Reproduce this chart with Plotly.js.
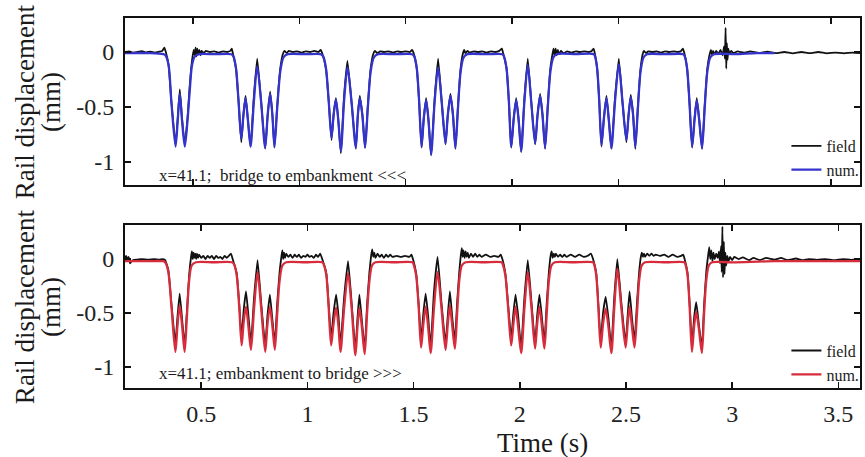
<!DOCTYPE html>
<html>
<head>
<meta charset="utf-8">
<script src="https://cdn.plot.ly/plotly-3.0.1.min.js"></script>
<style>html,body{margin:0;padding:0;background:#fff;}#chart{width:865px;height:457px;}</style>
</head>
<body>
<div id="chart"></div>
<script>
// ---------- DATA ----------
var xTickVals = [0.5, 1, 1.5, 2, 2.5, 3, 3.5];
var xTickText = ['0.5', '1', '1.5', '2', '2.5', '3', '3.5'];
var yTickVals = [0, -0.5, -1];
var yTickText = ['0', '-0.5', '-1'];
var seriesNames = ['field', 'num.'];
var panelNotes = ['x=41.1;&nbsp; bridge to embankment &lt;&lt;&lt;', 'x=41.1; embankment to bridge &gt;&gt;&gt;'];

// Top panel (bridge to embankment) - numerical (blue)
var numTopT = [0.18,0.30,0.36,0.37,0.385,0.398,0.4176,0.428,0.4377,0.448,0.4611,0.474,0.4845,0.495,0.508,0.53,0.60,0.68,
 0.69,0.702,0.714,0.7267,0.737,0.7468,0.758,0.7703,0.786,0.8016,0.82,0.8391,0.851,0.8625,0.873,0.8827,0.896,0.91,0.925,0.945,1.03,1.10,
 1.112,1.125,1.138,1.151,1.161,1.1717,1.183,1.1951,1.21,1.226,1.245,1.2653,1.275,1.2841,1.296,1.3089,1.322,1.335,1.35,1.37,1.45,1.53,
 1.54,1.552,1.563,1.5745,1.585,1.596,1.607,1.6194,1.636,1.6522,1.669,1.6869,1.698,1.7103,1.722,1.7337,1.746,1.758,1.772,1.79,1.88,1.955,
 1.962,1.974,1.985,1.9961,2.008,2.0195,2.031,2.0429,2.058,2.0738,2.09,2.1084,2.12,2.1319,2.143,2.1553,2.168,2.18,2.194,2.21,2.30,2.385,
 2.39,2.400,2.41,2.4204,2.432,2.4438,2.455,2.4672,2.484,2.5019,2.519,2.5375,2.548,2.5581,2.569,2.5796,2.592,2.604,2.618,2.635,2.72,2.805,
 2.812,2.823,2.834,2.8466,2.858,2.8686,2.88,2.8934,2.906,2.918,2.932,2.95,3.05,3.15,3.234];
var numTopV = [-0.01,-0.01,-0.02,-0.03,-0.12,-0.45,-0.86,-0.62,-0.38,-0.62,-0.86,-0.62,-0.35,-0.12,-0.04,-0.02,-0.02,-0.02,
 -0.04,-0.15,-0.45,-0.79,-0.57,-0.42,-0.62,-0.86,-0.45,-0.13,-0.45,-0.87,-0.57,-0.38,-0.57,-0.86,-0.5,-0.18,-0.05,-0.02,-0.02,-0.02,
 -0.04,-0.15,-0.45,-0.78,-0.57,-0.43,-0.62,-0.9,-0.45,-0.14,-0.45,-0.87,-0.57,-0.42,-0.57,-0.87,-0.5,-0.18,-0.05,-0.02,-0.02,-0.02,
 -0.04,-0.15,-0.45,-0.86,-0.6,-0.44,-0.62,-0.93,-0.45,-0.14,-0.45,-0.83,-0.57,-0.4,-0.57,-0.87,-0.5,-0.18,-0.05,-0.02,-0.02,-0.02,
 -0.04,-0.15,-0.45,-0.86,-0.6,-0.44,-0.62,-0.9,-0.45,-0.12,-0.45,-0.83,-0.57,-0.4,-0.57,-0.87,-0.5,-0.18,-0.05,-0.02,-0.02,-0.02,
 -0.04,-0.15,-0.45,-0.845,-0.6,-0.42,-0.62,-0.875,-0.45,-0.11,-0.45,-0.8,-0.57,-0.41,-0.57,-0.86,-0.5,-0.18,-0.05,-0.02,-0.02,-0.02,
 -0.04,-0.15,-0.45,-0.86,-0.62,-0.44,-0.62,-0.875,-0.5,-0.18,-0.05,-0.02,-0.02,-0.01,-0.01];

// Top panel - field (black)
var fieldTopT = [0.18,0.2,0.22,0.24,0.26,0.28,0.30,0.32,0.34,0.355,0.365,0.372,
 0.385,0.398,0.4176,0.428,0.4377,0.448,0.4611,0.474,0.4845,0.495,0.503,0.508,0.512,0.516,0.52,0.525,0.53,0.535,0.54,0.55,0.56,0.58,0.60,0.62,0.64,0.66,0.675,0.682,0.688,
 0.702,0.714,0.7267,0.737,0.7468,0.758,0.7703,0.786,0.8016,0.82,0.8391,0.851,0.8625,0.873,0.8827,0.896,0.91,0.922,0.93,0.94,0.95,0.97,0.99,1.01,1.03,1.05,1.07,1.09,1.1,1.107,
 1.125,1.138,1.151,1.161,1.1717,1.183,1.1951,1.21,1.226,1.245,1.2653,1.275,1.2841,1.296,1.3089,1.322,1.335,1.347,1.355,1.365,1.38,1.40,1.42,1.44,1.46,1.48,1.50,1.52,1.53,1.537,
 1.552,1.563,1.5745,1.585,1.596,1.607,1.6194,1.636,1.6522,1.669,1.6869,1.698,1.7103,1.722,1.7337,1.746,1.758,1.768,1.775,1.78,1.79,1.80,1.82,1.84,1.86,1.88,1.90,1.92,1.94,1.952,1.958,
 1.974,1.985,1.9961,2.008,2.0195,2.031,2.0429,2.058,2.0738,2.09,2.1084,2.12,2.1319,2.143,2.1553,2.168,2.18,2.19,2.195,2.2,2.205,2.21,2.215,2.22,2.23,2.24,2.26,2.28,2.30,2.32,2.34,2.36,2.375,2.383,2.389,
 2.400,2.41,2.4204,2.432,2.4438,2.455,2.4672,2.484,2.5019,2.519,2.5375,2.548,2.5581,2.569,2.5796,2.592,2.604,2.614,2.62,2.63,2.64,2.66,2.68,2.70,2.72,2.74,2.76,2.78,2.795,2.803,2.81,
 2.823,2.834,2.8466,2.858,2.8686,2.88,2.8934,2.906,2.918,2.928,2.935,2.94,2.945,2.95,2.96,2.97,2.98,2.99,2.997,3.001,3.004,3.007,3.01,3.013,3.017,3.022,3.03,3.04,3.06,3.09,3.12,3.16,3.2,3.24,3.28,3.32,3.36,3.40,3.44,3.48,3.52,3.56,3.60,3.636];
var fieldTopV = [0.0,0.005,-0.005,0.0,0.008,-0.003,0.004,-0.005,0.003,0.01,0.04,0.0,
 -0.12,-0.45,-0.84,-0.6,-0.34,-0.6,-0.84,-0.6,-0.3,-0.08,0.02,-0.03,0.04,-0.04,0.03,-0.02,0.02,-0.03,0.01,-0.01,0.01,0.0,0.005,-0.005,0.005,0.0,0.01,0.03,-0.02,
 -0.15,-0.45,-0.82,-0.57,-0.4,-0.62,-0.86,-0.4,-0.06,-0.45,-0.88,-0.57,-0.36,-0.57,-0.87,-0.48,-0.15,-0.02,0.01,-0.01,0.01,0.0,0.005,-0.005,0.005,0.0,0.01,0.0,0.02,-0.01,
 -0.15,-0.45,-0.8,-0.57,-0.42,-0.62,-0.92,-0.4,-0.08,-0.45,-0.88,-0.57,-0.4,-0.57,-0.87,-0.48,-0.15,-0.02,0.01,-0.01,0.005,0.0,0.006,-0.004,0.005,0.0,0.006,0.0,0.02,-0.01,
 -0.15,-0.45,-0.87,-0.6,-0.42,-0.62,-0.94,-0.42,-0.06,-0.45,-0.84,-0.57,-0.38,-0.57,-0.88,-0.48,-0.15,-0.02,0.02,-0.01,0.01,-0.005,0.005,0.0,0.005,-0.005,0.005,0.0,0.01,0.03,-0.01,
 -0.15,-0.45,-0.87,-0.6,-0.42,-0.62,-0.91,-0.42,-0.06,-0.45,-0.84,-0.57,-0.38,-0.57,-0.88,-0.48,-0.15,-0.02,0.03,-0.03,0.03,-0.03,0.02,-0.02,0.01,-0.01,0.005,-0.005,0.005,0.0,0.005,0.0,0.01,0.03,-0.01,
 -0.15,-0.45,-0.86,-0.6,-0.4,-0.62,-0.88,-0.42,-0.06,-0.45,-0.82,-0.57,-0.39,-0.57,-0.88,-0.48,-0.15,-0.02,0.01,-0.01,0.005,0.0,0.005,-0.005,0.005,0.0,0.005,0.0,0.01,0.03,-0.01,
 -0.15,-0.45,-0.87,-0.6,-0.42,-0.62,-0.88,-0.48,-0.15,-0.03,0.02,-0.03,0.01,-0.02,0.01,-0.02,0.02,-0.03,0.05,-0.06,0.22,-0.15,0.08,-0.07,0.03,-0.02,0.01,-0.01,0.005,-0.005,0.005,-0.008,0.003,-0.01,0.0,-0.012,0.0,-0.01,0.0,-0.012,-0.005,-0.012,-0.005,-0.01];

// Bottom panel (embankment to bridge) - numerical (red)
var numBotT = [0.141,0.25,0.32,0.33,0.345,0.36,0.3782,0.388,0.3984,0.41,0.4218,0.432,0.443,0.455,0.475,0.56,0.645,
 0.655,0.667,0.679,0.6902,0.70,0.7108,0.722,0.7342,0.749,0.7651,0.782,0.8012,0.812,0.8232,0.835,0.8466,0.858,0.869,0.882,0.90,0.99,1.07,
 1.077,1.089,1.10,1.1117,1.123,1.1351,1.146,1.1557,1.173,1.1913,1.208,1.226,1.236,1.2447,1.256,1.2696,1.281,1.292,1.304,1.32,1.41,1.495,
 1.50,1.512,1.524,1.5351,1.546,1.5567,1.568,1.5801,1.596,1.6129,1.631,1.6503,1.661,1.6709,1.682,1.6944,1.705,1.715,1.727,1.745,1.83,1.915,
 1.92,1.932,1.945,1.9595,1.97,1.98,1.992,2.0063,2.022,2.0377,2.055,2.0719,2.082,2.0925,2.104,2.1159,2.127,2.137,2.149,2.165,2.25,2.345,
 2.35,2.36,2.37,2.381,2.392,2.4044,2.417,2.4311,2.445,2.4593,2.478,2.4981,2.508,2.5169,2.528,2.5403,2.552,2.562,2.574,2.59,2.69,2.775,
 2.78,2.79,2.80,2.8106,2.821,2.8307,2.843,2.8574,2.868,2.878,2.89,2.905,3.0,3.2,3.4,3.602];
var numBotV = [-0.02,-0.02,-0.02,-0.03,-0.12,-0.45,-0.86,-0.62,-0.43,-0.62,-0.86,-0.55,-0.2,-0.06,-0.03,-0.03,-0.03,
 -0.05,-0.15,-0.45,-0.8,-0.58,-0.44,-0.62,-0.84,-0.45,-0.12,-0.45,-0.86,-0.6,-0.44,-0.62,-0.84,-0.5,-0.2,-0.06,-0.03,-0.03,-0.03,
 -0.05,-0.15,-0.45,-0.8,-0.6,-0.45,-0.62,-0.86,-0.45,-0.13,-0.45,-0.89,-0.62,-0.45,-0.62,-0.88,-0.5,-0.2,-0.06,-0.03,-0.03,-0.03,
 -0.05,-0.15,-0.45,-0.82,-0.6,-0.44,-0.62,-0.87,-0.45,-0.12,-0.45,-0.84,-0.6,-0.43,-0.62,-0.83,-0.5,-0.2,-0.06,-0.03,-0.03,-0.03,
 -0.05,-0.15,-0.45,-0.8,-0.6,-0.44,-0.62,-0.87,-0.45,-0.12,-0.45,-0.83,-0.6,-0.44,-0.62,-0.83,-0.5,-0.2,-0.06,-0.03,-0.03,-0.03,
 -0.05,-0.15,-0.45,-0.82,-0.6,-0.46,-0.62,-0.87,-0.45,-0.09,-0.45,-0.82,-0.6,-0.44,-0.62,-0.82,-0.5,-0.2,-0.06,-0.03,-0.03,-0.03,
 -0.05,-0.15,-0.45,-0.86,-0.62,-0.49,-0.64,-0.87,-0.5,-0.2,-0.06,-0.03,-0.03,-0.02,-0.02,-0.02];

// Bottom panel - field (black)
var fieldBotT = [0.141,0.146,0.152,0.158,0.165,0.172,0.18,0.20,0.22,0.25,0.28,0.30,0.32,0.33,
 0.345,0.36,0.3782,0.388,0.3984,0.41,0.4218,0.432,0.443,0.452,0.456,0.46,0.464,0.468,0.472,0.476,0.48,0.485,0.49,0.5,0.51,0.52,0.53,0.54,0.55,0.56,0.57,0.58,0.59,0.6,0.61,0.62,0.63,0.64,0.648,
 0.667,0.679,0.6902,0.70,0.7108,0.722,0.7342,0.749,0.7651,0.782,0.8012,0.812,0.8232,0.835,0.8466,0.858,0.869,0.878,0.882,0.886,0.89,0.895,0.9,0.91,0.92,0.93,0.94,0.95,0.96,0.97,0.98,0.99,1.0,1.01,1.02,1.03,1.04,1.05,1.06,1.068,
 1.089,1.10,1.1117,1.123,1.1351,1.146,1.1557,1.173,1.1913,1.208,1.226,1.236,1.2447,1.256,1.2696,1.281,1.292,1.3,1.305,1.31,1.315,1.32,1.33,1.34,1.35,1.36,1.37,1.38,1.39,1.40,1.42,1.44,1.46,1.48,1.49,1.497,
 1.512,1.524,1.5351,1.546,1.5567,1.568,1.5801,1.596,1.6129,1.631,1.6503,1.661,1.6709,1.682,1.6944,1.705,1.715,1.722,1.727,1.731,1.735,1.74,1.745,1.75,1.755,1.76,1.77,1.78,1.79,1.8,1.81,1.82,1.84,1.86,1.88,1.90,1.91,1.918,
 1.932,1.945,1.9595,1.97,1.98,1.992,2.0063,2.022,2.0377,2.055,2.0719,2.082,2.0925,2.104,2.1159,2.127,2.137,2.145,2.15,2.155,2.16,2.165,2.17,2.18,2.19,2.2,2.21,2.22,2.24,2.26,2.28,2.30,2.32,2.335,2.345,
 2.36,2.37,2.381,2.392,2.4044,2.417,2.4311,2.445,2.4593,2.478,2.4981,2.508,2.5169,2.528,2.5403,2.552,2.562,2.57,2.575,2.58,2.585,2.59,2.6,2.61,2.62,2.63,2.64,2.66,2.68,2.70,2.72,2.74,2.76,2.77,2.776,
 2.79,2.80,2.8106,2.821,2.8307,2.843,2.8574,2.868,2.878,2.886,2.892,2.897,2.902,2.907,2.912,2.918,2.925,2.932,2.938,2.943,2.948,2.951,2.954,2.957,2.961,2.964,2.968,2.972,2.977,2.983,2.99,3.0,3.01,3.03,3.05,3.08,3.1,3.13,3.16,3.2,3.23,3.26,3.3,3.33,3.36,3.4,3.44,3.48,3.52,3.56,3.602];
var fieldBotV = [0.01,0.03,0.0,0.02,-0.04,-0.02,-0.01,-0.005,0.0,-0.005,0.0,-0.005,0.0,-0.01,
 -0.1,-0.42,-0.78,-0.54,-0.32,-0.56,-0.8,-0.5,-0.15,0.02,0.07,0.0,0.06,0.01,0.05,0.0,0.05,0.01,0.04,0.01,0.03,0.0,0.03,0.01,0.03,0.0,0.03,0.01,0.02,0.0,0.03,0.01,0.03,0.05,0.0,
 -0.13,-0.42,-0.72,-0.47,-0.3,-0.52,-0.78,-0.35,-0.01,-0.4,-0.8,-0.52,-0.33,-0.56,-0.78,-0.4,-0.12,0.03,0.08,0.0,0.06,0.01,0.05,0.02,0.04,0.01,0.04,0.02,0.04,0.01,0.03,0.02,0.04,0.02,0.03,0.01,0.04,0.02,0.05,0.01,
 -0.13,-0.42,-0.73,-0.5,-0.33,-0.52,-0.8,-0.35,-0.02,-0.4,-0.84,-0.54,-0.33,-0.56,-0.83,-0.42,-0.12,0.03,0.09,0.02,0.06,0.01,0.05,0.02,0.04,0.01,0.04,0.02,0.04,0.02,0.03,0.02,0.03,0.02,0.04,0.0,
 -0.13,-0.42,-0.75,-0.5,-0.32,-0.52,-0.81,-0.3,0.02,-0.4,-0.78,-0.52,-0.3,-0.54,-0.76,-0.4,-0.12,0.03,0.1,0.02,0.08,0.01,0.07,0.02,0.06,0.01,0.05,0.02,0.05,0.02,0.04,0.02,0.04,0.02,0.03,0.02,0.04,0.0,
 -0.13,-0.42,-0.73,-0.5,-0.33,-0.52,-0.82,-0.35,-0.01,-0.4,-0.78,-0.52,-0.33,-0.54,-0.77,-0.4,-0.12,0.03,0.07,0.01,0.05,0.02,0.05,0.02,0.04,0.02,0.04,0.02,0.04,0.02,0.04,0.02,0.03,0.05,0.0,
 -0.13,-0.42,-0.76,-0.5,-0.35,-0.54,-0.82,-0.35,0.0,-0.4,-0.78,-0.52,-0.3,-0.54,-0.76,-0.4,-0.12,0.02,0.06,0.02,0.05,0.02,0.05,0.03,0.05,0.03,0.04,0.03,0.04,0.02,0.04,0.02,0.03,0.04,0.0,
 -0.13,-0.42,-0.8,-0.54,-0.4,-0.6,-0.82,-0.42,-0.12,0.02,0.11,0.0,0.08,-0.02,0.06,0.0,0.05,0.01,0.07,-0.04,0.12,-0.12,0.3,-0.17,0.16,-0.14,0.06,-0.06,0.03,-0.02,0.02,-0.01,0.02,0.0,0.015,-0.01,0.01,-0.01,0.01,-0.005,0.01,-0.01,0.005,-0.01,0.0,-0.008,0.0,-0.01,0.0,-0.008,-0.002];

// ---------- STYLE ----------
var FONT = '"Liberation Serif", "Times New Roman", serif';
var BLACK = '#111111', BLUE = '#3434cc', RED = '#d62c3c';

var traces = [
  {x: fieldTopT, y: fieldTopV, name: seriesNames[0], mode: 'lines', line: {color: BLACK, width: 1.8, shape: 'spline', smoothing: 0.4}, xaxis: 'x', yaxis: 'y', legend: 'legend'},
  {x: numTopT, y: numTopV, name: seriesNames[1], mode: 'lines', line: {color: BLUE, width: 2.3, shape: 'spline', smoothing: 0.8}, xaxis: 'x', yaxis: 'y', legend: 'legend'},
  {x: fieldBotT, y: fieldBotV, name: seriesNames[0], mode: 'lines', line: {color: BLACK, width: 1.8, shape: 'spline', smoothing: 0.4}, xaxis: 'x2', yaxis: 'y2', legend: 'legend2'},
  {x: numBotT, y: numBotV, name: seriesNames[1], mode: 'lines', line: {color: RED, width: 2.3, shape: 'spline', smoothing: 0.8}, xaxis: 'x2', yaxis: 'y2', legend: 'legend2'}
];

function xAxis(range, anchor, labels) {
  return {domain: [0, 1], anchor: anchor, range: range, tickmode: 'array', tickvals: xTickVals, ticktext: xTickText,
    showticklabels: labels, ticks: 'inside', ticklen: 6, tickwidth: 1.5, tickcolor: BLACK, mirror: 'ticks',
    showline: true, linecolor: BLACK, linewidth: 2, showgrid: false, zeroline: false,
    tickfont: {family: FONT, size: 24, color: '#222'}, ticklabelstandoff: 3};
}
function yAxis(range, domain, anchor) {
  return {domain: domain, anchor: anchor, range: range, tickmode: 'array', tickvals: yTickVals, ticktext: yTickText,
    ticks: 'inside', ticklen: 6, tickwidth: 1.5, tickcolor: BLACK, mirror: 'ticks',
    showline: true, linecolor: BLACK, linewidth: 2, showgrid: false, zeroline: false,
    tickfont: {family: FONT, size: 24, color: '#222'}, ticklabelstandoff: 4};
}

var legendStyle = function (y) {
  return {x: 1.006, xanchor: 'right', y: y, yanchor: 'top', bgcolor: 'rgba(0,0,0,0)', borderwidth: 0,
    font: {family: FONT, size: 16, color: '#222'}, itemwidth: 30, tracegroupgap: 0};
};

var ann = function (text, x, y, size, angle, xanchor) {
  return {text: text, xref: 'paper', yref: 'paper', x: x, y: y, showarrow: false, textangle: angle || 0,
    xanchor: xanchor || 'center', yanchor: 'middle', font: {family: FONT, size: size, color: '#1a1a1a'}};
};

var layout = {
  width: 865, height: 457,
  margin: {l: 125, r: 1, t: 18, b: 69},
  paper_bgcolor: '#ffffff', plot_bgcolor: '#ffffff',
  showlegend: true,
  xaxis: xAxis([0.180, 3.636], 'y', false),
  yaxis: yAxis([-1.209, 0.309], [0.5486, 1], 'x'),
  xaxis2: xAxis([0.141, 3.602], 'y2', true),
  yaxis2: yAxis([-1.194, 0.315], [0, 0.4405], 'x2'),
  legend: legendStyle(0.70),
  legend2: legendStyle(0.147),
  annotations: [
    ann(panelNotes[0], 0.043, 0.575, 17, 0, 'left'),
    ann(panelNotes[1], 0.043, 0.0405, 17, 0, 'left'),
    ann('Time (s)', 0.568, -0.148, 27),
    ann('Rail displacement', -0.1367, 0.774, 27, -90),
    ann('(mm)', -0.1015, 0.774, 27, -90),
    ann('Rail displacement', -0.1367, 0.220, 27, -90),
    ann('(mm)', -0.1015, 0.220, 27, -90)
  ]
};

Plotly.newPlot('chart', traces, layout, {staticPlot: true, displayModeBar: false});
</script>
</body>
</html>
